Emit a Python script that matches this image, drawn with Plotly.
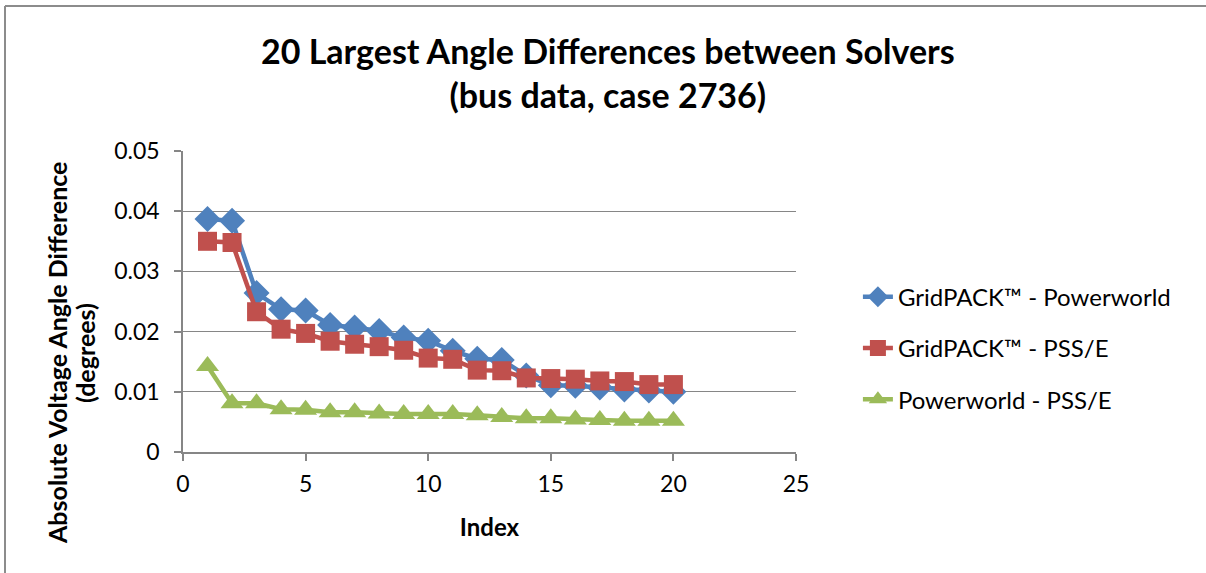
import plotly.graph_objects as go

index = list(range(1, 21))
gridpack_powerworld = [0.0387, 0.0384, 0.0264, 0.0237, 0.0235, 0.0211, 0.0207, 0.0201, 0.0190, 0.0185,
                       0.0168, 0.0155, 0.0153, 0.0127, 0.0111, 0.0110, 0.0107, 0.0104, 0.0102, 0.0100]
gridpack_psse = [0.0350, 0.0348, 0.0233, 0.0204, 0.0197, 0.0184, 0.0179, 0.0175, 0.0169, 0.0156,
                 0.0154, 0.0136, 0.0135, 0.0123, 0.0122, 0.0121, 0.0118, 0.0117, 0.0112, 0.0112]
powerworld_psse = [0.0143, 0.0081, 0.0081, 0.0071, 0.0070, 0.0066, 0.0066, 0.0064, 0.0063, 0.0063,
                   0.0063, 0.0061, 0.0058, 0.0056, 0.0056, 0.0054, 0.0053, 0.0052, 0.0052, 0.0052]

series = [
    ("GridPACK™ - Powerworld", gridpack_powerworld, "#4F81BD", "diamond", 20),
    ("GridPACK™ - PSS/E", gridpack_psse, "#C0504D", "square", 19),
    ("Powerworld - PSS/E", powerworld_psse, "#9BBB59", "triangle-up", 20),
]
y_title_lines = ["Absolute Voltage Angle Difference", "(degrees)"]

FONT = "Lato"
W, H = 1206, 573
L, R, T, B = 183, 410, 151, 121
PW, PH = W - L - R, H - T - B


def px_x(px):
    return (px - L) / PW


def px_y(py):
    return (H - B - py) / PH


fig = go.Figure()
for i, (name, vals, color, sym, sz) in enumerate(series):
    fig.add_trace(go.Scatter(
        x=index, y=vals, name=name, mode="lines+markers",
        line=dict(color=color, width=4.5),
        marker=dict(symbol=sym, size=sz, color=color, line=dict(width=0)),
        legendgroup=f"g{i}",
    ))

grid_col = "#868686"
fig.update_layout(
    width=W, height=H,
    margin=dict(l=L, r=R, t=T, b=B),
    paper_bgcolor="white", plot_bgcolor="white",
    font=dict(family=FONT, size=23, color="black"),
    title=dict(
        text="<b>20 Largest Angle Differences between Solvers<br>(bus data, case 2736)</b>",
        x=0.504, xref="container", xanchor="center",
        y=1 - 64 / H, yref="container", yanchor="top",
        font=dict(family=FONT, size=34, color="black"),
    ),
    legend=dict(
        x=1.101, xanchor="left", y=0.345, yanchor="middle",
        font=dict(family=FONT, size=24, color="black"),
        traceorder="grouped", tracegroupgap=17,
        bgcolor="rgba(0,0,0,0)",
    ),
    showlegend=True,
)
fig.update_xaxes(
    range=[0, 25], dtick=5, tick0=0,
    showgrid=False, zeroline=False,
    showline=True, linecolor=grid_col, linewidth=1.5,
    ticks="outside", ticklen=7, tickcolor=grid_col, tickwidth=1.5,
    ticklabelstandoff=4,
    title=dict(text="<b>Index</b>", font=dict(family=FONT, size=24), standoff=23),
)
fig.update_yaxes(
    range=[0, 0.05], dtick=0.01, tick0=0,
    showgrid=True, gridcolor=grid_col, gridwidth=1.3,
    zeroline=False,
    showline=True, linecolor=grid_col, linewidth=1.5,
    ticks="outside", ticklen=7, tickcolor=grid_col, tickwidth=1.5,
    ticklabelstandoff=10,
)
# y-axis title, two rotated lines (positioned like the reference, below centre)
for txt, cx in zip(y_title_lines, [57, 85]):
    fig.add_annotation(
        text=f"<b>{txt}</b>", textangle=-90, showarrow=False,
        xref="paper", yref="paper", x=px_x(cx), y=px_y(353),
        xanchor="center", yanchor="middle",
        font=dict(family=FONT, size=25, color="black"),
    )
# outer chart border (left and top visible)
fig.add_shape(type="line", xref="paper", yref="paper",
              x0=px_x(5), x1=px_x(W), y0=px_y(6), y1=px_y(6),
              line=dict(color="#8C8C8C", width=2))
fig.add_shape(type="line", xref="paper", yref="paper",
              x0=px_x(5), x1=px_x(5), y0=px_y(6), y1=px_y(H),
              line=dict(color="#8C8C8C", width=2))

fig.write_html(
    "out.html",
    config={"displayModeBar": False},
    post_script="document.body.style.margin='0px';document.body.style.overflow='hidden';",
)
